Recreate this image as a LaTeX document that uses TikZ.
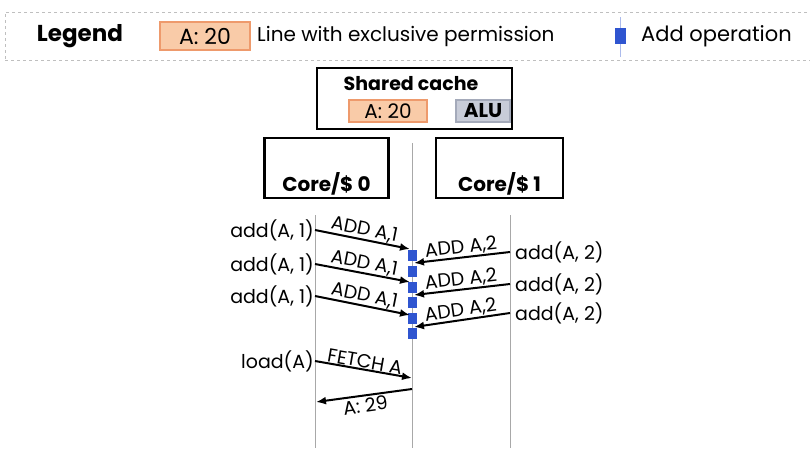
\documentclass[tikz,border=0pt]{standalone}
\usepackage{fontspec}
\setmainfont{Poppins}
\usetikzlibrary{arrows.meta}
\definecolor{exclfill}{HTML}{F9CBA8}
\definecolor{excldraw}{HTML}{EE9A6C}
\definecolor{alufill}{HTML}{C8CCD8}
\definecolor{aludraw}{HTML}{A4AABA}
\definecolor{opblue}{HTML}{2F55D0}
\definecolor{tlgray}{HTML}{A8A8A8}
\begin{document}
\begin{tikzpicture}[
    x = 1pt, y = -1pt,
    box/.style = {draw, line width=2.4pt, inner sep=0pt},
    title/.style = {font=\fontsize{20}{20}\selectfont\bfseries},
    lbl/.style = {font=\fontsize{19}{19}\selectfont, inner sep=1pt},
    excl/.style = {draw=excldraw, fill=exclfill, line width=1.2pt, inner sep=0pt,
      minimum width=78pt, minimum height=22pt, font=\fontsize{20}{20}\selectfont},
    alu/.style = {draw=aludraw, fill=alufill, line width=1.2pt, inner sep=0pt,
      minimum width=54pt, minimum height=22pt, font=\fontsize{20}{20}\selectfont\bfseries},
    tline/.style = {draw=tlgray, line width=0.8pt},
    msg/.style = {draw, line width=2pt, -{Latex[length=10pt, width=8pt]}},
    op/.style = {fill=opblue, minimum width=9pt, minimum height=11pt, inner sep=0pt},
  ]
  \useasboundingbox (0,0) rectangle (810,450);

  % legend
  \node[draw=gray!50, dashed, minimum width=812pt, minimum height=48pt] (legend) at (411,36) {};
  \node[title, font=\fontsize{23}{23}\selectfont\bfseries] (legT) at (80,36) {Legend};
  \node[excl, minimum width=90pt, minimum height=28pt, font=\fontsize{22}{22}\selectfont] (legA) at (205,36) {A: 20};
  \node[lbl, anchor=west, font=\fontsize{20}{20}\selectfont] (legExcl) at (256,36) {Line with exclusive permission};
  \coordinate (legTop) at (620,17);
  \coordinate (legBot) at (620,57);
  \draw[opblue!40] (legTop) -- (legBot);
  \node[op, minimum width=11pt, minimum height=16pt] (legOp) at (620,36) {};
  \node[lbl, anchor=west, font=\fontsize{21}{21}\selectfont] (legAdd) at (640,36) {Add operation};

  % shared cache and cores
  \node[box, minimum width=195pt, minimum height=61pt] (shared) at (414.5,98.5) {};
  \node[title, font=\fontsize{19}{19}\selectfont\bfseries] (sharedT) at (411,84) {Shared cache};
  \node[excl] (cacheA) at (388,111) {A: 20};
  \node[alu] (alu) at (483,111) {ALU};
  \node[box, minimum width=124pt, minimum height=60pt] (core0) at (326.5,168) {};
  \node[title] (core0T) at (326.5,184) {Core/\$ 0};
  \node[box, minimum width=127pt, minimum height=60pt] (core1) at (499.5,168) {};
  \node[title] (core1T) at (499.5,184) {Core/\$ 1};

  % timelines
  \coordinate (t0) at (315,215);  \coordinate (b0) at (315,448);
  \coordinate (tc) at (412,143);  \coordinate (bc) at (412,448);
  \coordinate (t1) at (510,215);  \coordinate (b1) at (510,448);
  \draw[tline] (t0) -- (b0);
  \draw[tline] (tc) -- (bc);
  \draw[tline] (t1) -- (b1);

  % add operations at the shared cache
  \foreach \y [count=\i] in {255,271,287,302,318,333}
    \node[op] (op\i) at (412,\y) {};

  % requests from core 0
  \foreach \ys/\ye [count=\i] in {230/249, 264/282, 296/315} {
    \coordinate (l\i) at (315,\ys);
    \coordinate (m\i) at (410,\ye);
    \node[lbl, anchor=east] (reqA\i) at (l\i) {add(A, 1)};
    \draw[msg] (l\i) -- node[lbl, above, sloped, inner sep=0.5pt] {ADD A,1} (m\i);
  }
  % requests from core 1
  \foreach \ys/\ye [count=\i] in {252/263, 284/295, 313/327} {
    \coordinate (r\i) at (510,\ys);
    \coordinate (n\i) at (414,\ye);
    \node[lbl, anchor=west] (reqB\i) at ([xshift=4pt]r\i) {add(A, 2)};
    \draw[msg] (r\i) -- node[lbl, above, sloped, inner sep=0.5pt] {ADD A,2} (n\i);
  }

  % load
  \coordinate (ls) at (315,361);
  \coordinate (le) at (412,378);
  \coordinate (rs) at (412,389);
  \coordinate (re) at (316,402);
  \node[lbl, anchor=east] (load) at (ls) {load(A)};
  \draw[msg] (ls) -- node[lbl, above, sloped, inner sep=0.5pt] {FETCH A} (le);
  \draw[msg] (rs) -- node[lbl, below, sloped, inner sep=2pt] {A: 29} (re);
\end{tikzpicture}
\end{document}
